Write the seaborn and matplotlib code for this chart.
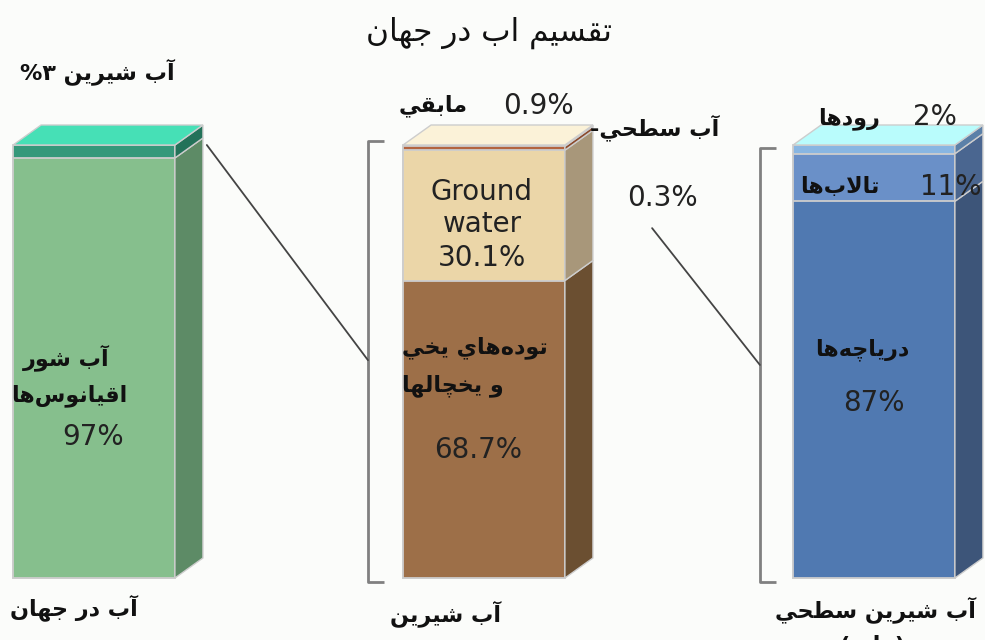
import numpy as np
import pandas as pd
import matplotlib
matplotlib.use("Agg")
import matplotlib.pyplot as plt
import seaborn as sns
from matplotlib.patches import Polygon

# ---------------- data ----------------
groups = ["world", "fresh", "surface"]
world_segments = ["ocean", "freshwater"]
world_values = [97, 3]
fresh_segments = ["ice", "ground", "other", "surfacewater"]
fresh_values = [68.7, 30.1, 0.9, 0.3]
surface_segments = ["lakes", "swamps", "rivers"]
surface_values = [87, 11, 2]

title_text = "تقسيم اب در جهان"
group_labels = ["آب در جهان", "آب شيرين", "آب شيرين سطحي"]

# ---------------- styling ----------------
front_colors = {"ocean": "#86BF8D", "freshwater": "#35987A",
                "ice": "#9D6F48", "ground": "#EBD6A8", "other": "#B3643F", "surfacewater": "#E6CABB",
                "lakes": "#5079B1", "swamps": "#6A90C8", "rivers": "#88B6E2"}
side_colors = {"ocean": "#5D8B66", "freshwater": "#237259",
               "ice": "#6B4F31", "ground": "#A8977A", "other": "#8B4A2C", "surfacewater": "#B9A393",
               "lakes": "#3D5579", "swamps": "#4A6690", "rivers": "#5B80A8"}
top_colors = {"world": "#46E0B6", "fresh": "#FBF2D8", "surface": "#B9FCFC"}
BG = "#FBFCFA"
EDGE = "#CDCDCD"

# ---------------- minimal Arabic shaping for display ----------------
FORMS = {
    '\u0622': ('\uFE81', '\uFE82', None, None),
    '\u0627': ('\uFE8D', '\uFE8E', None, None),
    '\u0628': ('\uFE8F', '\uFE90', '\uFE91', '\uFE92'),
    '\u062A': ('\uFE95', '\uFE96', '\uFE97', '\uFE98'),
    '\u062C': ('\uFE9D', '\uFE9E', '\uFE9F', '\uFEA0'),
    '\u062D': ('\uFEA1', '\uFEA2', '\uFEA3', '\uFEA4'),
    '\u062E': ('\uFEA5', '\uFEA6', '\uFEA7', '\uFEA8'),
    '\u062F': ('\uFEA9', '\uFEAA', None, None),
    '\u0631': ('\uFEAD', '\uFEAE', None, None),
    '\u0633': ('\uFEB1', '\uFEB2', '\uFEB3', '\uFEB4'),
    '\u0634': ('\uFEB5', '\uFEB6', '\uFEB7', '\uFEB8'),
    '\u0637': ('\uFEC1', '\uFEC2', '\uFEC3', '\uFEC4'),
    '\u0639': ('\uFEC9', '\uFECA', '\uFECB', '\uFECC'),
    '\u0642': ('\uFED5', '\uFED6', '\uFED7', '\uFED8'),
    '\u0644': ('\uFEDD', '\uFEDE', '\uFEDF', '\uFEE0'),
    '\u0645': ('\uFEE1', '\uFEE2', '\uFEE3', '\uFEE4'),
    '\u0646': ('\uFEE5', '\uFEE6', '\uFEE7', '\uFEE8'),
    '\u0647': ('\uFEE9', '\uFEEA', '\uFEEB', '\uFEEC'),
    '\u0648': ('\uFEED', '\uFEEE', None, None),
    '\u064A': ('\uFEF1', '\uFEF2', '\uFEF3', '\uFEF4'),
    '\u0686': ('\uFB7A', '\uFB7B', '\uFB7C', '\uFB7D'),
}
LAMALEF = {'\u0627': ('\uFEFB', '\uFEFC'), '\u0622': ('\uFEF5', '\uFEF6')}


def dual(c):
    return c in FORMS and FORMS[c][2] is not None


def joins(c):
    return c in FORMS


def shape(s):
    chars = list(s)
    out = []
    i = 0
    n = len(chars)
    while i < n:
        c = chars[i]
        prev = chars[i - 1] if i > 0 else ''
        jp = dual(prev) and joins(c)
        if c == '\u0644' and i + 1 < n and chars[i + 1] in LAMALEF:
            out.append(LAMALEF[chars[i + 1]][1 if jp else 0])
            i += 2
            continue
        if c in FORMS:
            nxt = chars[i + 1] if i + 1 < n else ''
            jn = dual(c) and joins(nxt)
            iso, fin, ini, med = FORMS[c]
            if jp and jn:
                g = med
            elif jp:
                g = fin
            elif jn:
                g = ini
            else:
                g = iso
            out.append(g)
        elif c == '\u200c':
            pass
        else:
            out.append(c)
        i += 1
    mirror = {'(': ')', ')': '('}
    return ''.join(mirror.get(g, g) for g in reversed(out))


# ---------------- figure ----------------
W, H = 985, 640
sns.set_theme(style="white")
plt.rcParams['font.family'] = ['DejaVu Sans']
fig = plt.figure(figsize=(W / 100, H / 100), dpi=100, facecolor=BG)
ax = fig.add_axes([0, 0, 1, 1])
ax.set_facecolor(BG)

PX_X = 390.0     # pixels per category step
PX_Y = 4.33      # pixels per percent

seg_table = {"world": (world_segments, world_values),
             "fresh": (fresh_segments, fresh_values),
             "surface": (surface_segments, surface_values)}
rows = []
for g in groups:
    segs, vals = seg_table[g]
    cum = np.cumsum(vals)
    bottoms = cum - np.array(vals)
    for s, v, b, t in zip(segs, vals, bottoms, cum):
        rows.append({"group": g, "segment": s, "value": v, "bottom": b, "top": t})
df = pd.DataFrame(rows)
hue_order = list(df.sort_values("top", ascending=False, kind="stable")["segment"])

sns.barplot(data=df, x="group", y="top", hue="segment", hue_order=hue_order,
            order=groups, palette=front_colors, dodge=False, width=0.415,
            errorbar=None, legend=False, saturation=1, edgecolor=EDGE,
            linewidth=1.3, ax=ax)

ax.set_xlim(-94 / PX_X, (W - 94) / PX_X)
ax.set_ylim(-(H - 578) / PX_Y, 578 / PX_Y)
ax.axis("off")

# bar geometry from the drawn patches
geom = {}
for p in ax.patches:
    if p.get_height() <= 0:
        continue
    idx = int(round(p.get_x() + p.get_width() / 2))
    g = groups[idx]
    geom[g] = (p.get_x(), p.get_x() + p.get_width())

DX = 28 / PX_X
DY = 20 / PX_Y
for g in groups:
    x0, x1 = geom[g]
    sub = df[df.group == g]
    for _, r in sub.iterrows():
        b, t = r["bottom"], r["top"]
        ax.add_patch(Polygon([(x1, b), (x1 + DX, b + DY), (x1 + DX, t + DY), (x1, t)],
                             closed=True, facecolor=side_colors[r["segment"]],
                             edgecolor=EDGE, linewidth=1.0, zorder=3))
    top = sub["top"].max()
    ax.add_patch(Polygon([(x0, top), (x1, top), (x1 + DX, top + DY), (x0 + DX, top + DY)],
                         closed=True, facecolor=top_colors[g], edgecolor=EDGE,
                         linewidth=1.0, zorder=3))

# brackets
for g, off, ytop in [("fresh", 0.09, 100.9), ("surface", 0.085, 99.3)]:
    x0, _ = geom[g]
    bx = x0 - off
    ax.plot([bx + 0.04, bx, bx, bx + 0.04], [ytop, ytop, -0.9, -0.9],
            color="#808080", lw=2.0, zorder=2, solid_capstyle="butt")

# connector lines
xw1 = geom["world"][1] + DX
ax.plot([xw1 + 0.01, geom["fresh"][0] - 0.09], [100.0, 50.3], color="#444444", lw=1.3)
ax.plot([1.431, geom["surface"][0] - 0.085], [80.8, 49.2], color="#444444", lw=1.3)


# ---------------- texts ----------------
def T(xp, yp, s, size, weight="normal", ha="center", color="#111111"):
    fig.text(xp / W, 1 - yp / H, s, fontsize=size, fontweight=weight,
             ha=ha, va="center", color=color)


NUMC = "#222222"
AR = 16
NUM = 20
T(489, 33, shape(title_text), 22.5)
T(20, 72, "%۳ " + shape("آب شيرين"), AR, "bold", ha="left")

T(110, 358, shape("آب شور"), AR, "bold", ha="right")
T(127, 396, shape("اقيانوس\u200cها"), AR, "bold", ha="right")
T(93, 437, f"{world_values[0]:g}%", NUM, color=NUMC)

T(10, 608, shape(group_labels[0]), AR, "bold", ha="left")
T(390, 614, shape(group_labels[1]), AR, "bold", ha="left")
T(775, 610, shape(group_labels[2]), AR, "bold", ha="left")
T(872, 646, shape("(مايع)"), AR, "bold")

T(468, 106, shape("مابقي"), AR, "bold", ha="right")
T(538, 106, f"{fresh_values[2]:g}%", NUM, color=NUMC)
T(590, 128, "-" + shape("آب سطحي"), AR, "bold", ha="left")
T(662, 198, f"{fresh_values[3]:g}%", NUM, color=NUMC)
T(482, 192, "Ground", NUM, color=NUMC)
T(482, 224, "water", NUM, color=NUMC)
T(482, 258, f"{fresh_values[1]:g}%", NUM, color=NUMC)
T(402, 348, shape("توده\u200cهاي يخي"), AR, "bold", ha="left")
T(402, 386, shape("و يخچالها"), AR, "bold", ha="left")
T(478, 450, f"{fresh_values[0]:g}%", NUM, color=NUMC)

T(880, 119, shape("رودها"), AR, "bold", ha="right")
T(935, 117, f"{surface_values[2]:g}%", NUM, color=NUMC)
T(880, 187, shape("تالاب\u200cها"), AR, "bold", ha="right")
T(951, 187, f"{surface_values[1]:g}%", NUM, color=NUMC)
T(862, 350, shape("درياچه\u200cها"), AR, "bold")
T(874, 403, f"{surface_values[0]:g}%", NUM, color=NUMC)

fig.savefig("out.png", dpi=100, facecolor=BG)
